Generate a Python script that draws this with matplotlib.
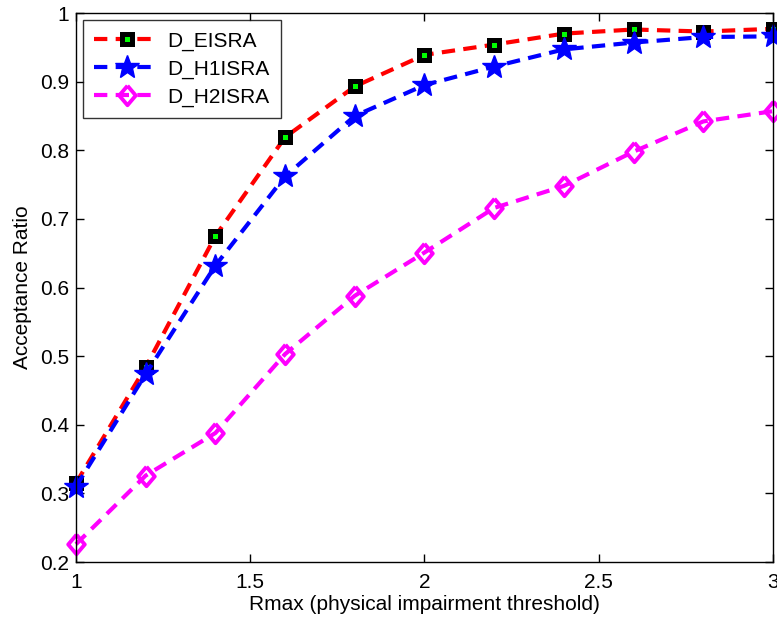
import matplotlib
matplotlib.use("Agg")
import matplotlib.pyplot as plt

plt.rcParams['font.family'] = ['Liberation Sans', 'DejaVu Sans']

rmax = [1.0, 1.2, 1.4, 1.6, 1.8, 2.0, 2.2, 2.4, 2.6, 2.8, 3.0]
d_eisra = [0.315, 0.484, 0.675, 0.819, 0.893, 0.939, 0.954, 0.970, 0.976, 0.973, 0.977]
d_h1isra = [0.310, 0.474, 0.632, 0.762, 0.850, 0.895, 0.922, 0.947, 0.957, 0.965, 0.966]
d_h2isra = [0.226, 0.326, 0.388, 0.503, 0.588, 0.651, 0.716, 0.748, 0.798, 0.842, 0.857]

fig = plt.figure(figsize=(7.77, 6.2), dpi=100)
ax = fig.add_axes([0.0978, 0.0935, 0.897, 0.8855])

dash = (0, (3.2, 2.0))
diamond = [(0, 1), (0.85, 0), (0, -1), (-0.85, 0), (0, 1)]
ax.plot(rmax, d_eisra, color='red', linestyle=dash, linewidth=3,
        marker='s', markersize=7, markerfacecolor='#00ff00', markeredgecolor='black',
        markeredgewidth=3.6, label='D_EISRA', clip_on=False)
ax.plot(rmax, d_h1isra, color='blue', linestyle=dash, linewidth=3,
        marker='*', markersize=18, markerfacecolor='blue', markeredgecolor='blue',
        label='D_H1ISRA', clip_on=False)
ax.plot(rmax, d_h2isra, color='magenta', linestyle=dash, linewidth=3,
        marker=diamond, markersize=14, markerfacecolor='none', markeredgecolor='magenta',
        markeredgewidth=2.8, label='D_H2ISRA', clip_on=False)

ax.set_xlim(1, 3)
ax.set_ylim(0.2, 1.0)
ax.set_xticks([1, 1.5, 2, 2.5, 3])
ax.set_xticklabels(['1', '1.5', '2', '2.5', '3'])
ax.set_yticks([0.2, 0.3, 0.4, 0.5, 0.6, 0.7, 0.8, 0.9, 1.0])
ax.set_yticklabels(['0.2', '0.3', '0.4', '0.5', '0.6', '0.7', '0.8', '0.9', '1'])
ax.tick_params(direction='in', top=True, right=True, labelsize=15, length=6, width=1)
ax.tick_params(axis='y', pad=5)
ax.tick_params(axis='x', pad=8)
for s in ax.spines.values():
    s.set_linewidth(1)

ax.set_xlabel('Rmax (physical impairment threshold)', fontsize=15, labelpad=2)
ax.set_ylabel('Acceptance Ratio', fontsize=15, labelpad=6)

leg = ax.legend(loc='upper left', fontsize=15, frameon=True, fancybox=False,
                edgecolor='black', handlelength=3.1, borderaxespad=0.33,
                labelspacing=0.42, borderpad=0.55, handletextpad=0.4)
leg.get_frame().set_linewidth(1)

fig.savefig('out.png', dpi=100)
